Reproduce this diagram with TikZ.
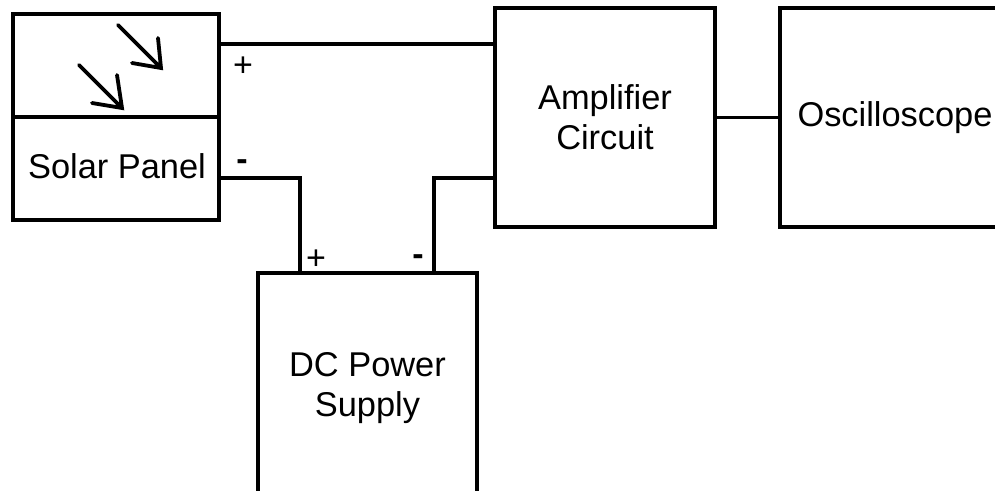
\documentclass[tikz,border=0pt]{standalone}
\usepackage{fontspec}
\setmainfont{Liberation Sans}
\begin{document}
\begin{tikzpicture}[x=0.5pt,y=-0.5pt,
  box/.style={draw,line width=1.8pt,rectangle,inner sep=0pt,align=center,font=\fontsize{17.2}{20}\selectfont},
  wire/.style={line width=1.8pt},
  sign/.style={font=\fontsize{17}{18}\selectfont,inner sep=0pt},
  ray/.style={line width=1.9pt,line cap=round}]
\useasboundingbox (0,0) rectangle (995,491);
\clip (0,0) rectangle (995,491);
% boxes
\node[box,minimum width=103pt,minimum height=103pt] (solar) at (116,117) {};
\node[font=\fontsize{17.2}{20}\selectfont,inner sep=0pt] (solarlbl) at (117,166) {Solar Panel};
\draw[wire] (solar.west) -- (solar.east);
\node[box,minimum width=110pt,minimum height=109.5pt] (amp) at (605,117.5) {Amplifier\\Circuit};
\node[box,minimum width=115pt,minimum height=109.5pt,text width=115pt] (osc) at (895,117.5) {Oscilloscope};
\node[box,minimum width=109.5pt,minimum height=115pt] (dc) at (367.5,388) {DC Power\\Supply};
% light rays
\draw[ray] (118,25) -- (161,68) (132,63) -- (161,68) -- (158,38);
\draw[ray] (79,65) -- (122,108) (92,103) -- (122,108) -- (117,75);
% wire levels
\coordinate (ytop) at (0,44);
\coordinate (ymid) at (0,178);
\coordinate (xa) at (300,0);
\coordinate (xb) at (434,0);
\draw[wire] (solar.east |- ytop) -- (amp.west |- ytop);
\draw[wire] (solar.east |- ymid) -- (xa |- ymid) -- (xa |- dc.north);
\draw[wire] (xb |- dc.north) -- (xb |- ymid) -- (amp.west |- ymid);
\draw[wire] (amp.east) -- (osc.west);
% polarity labels
\node[sign] (p1) at (243,67) {+};
\node[sign] (m1) at (242,165) {\textbf{-}};
\node[sign] (p2) at (316,260) {+};
\node[sign] (m2) at (418,260) {\textbf{-}};
\end{tikzpicture}
\end{document}
